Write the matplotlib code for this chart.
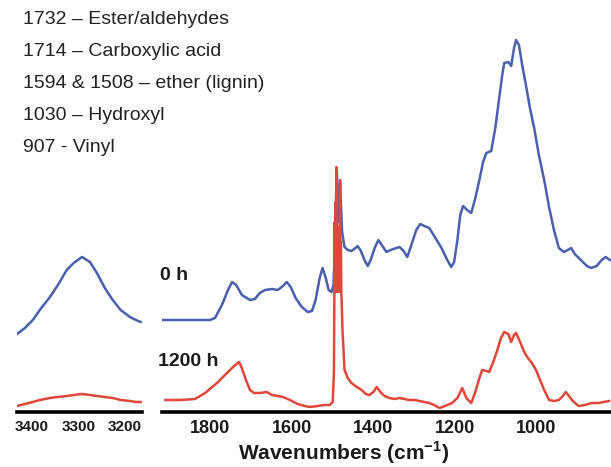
import matplotlib
matplotlib.use("Agg")
import matplotlib.pyplot as plt

plt.rcParams['font.family'] = ['Liberation Sans', 'DejaVu Sans']
plt.rcParams['mathtext.fontset'] = 'custom'
plt.rcParams['mathtext.rm'] = 'Liberation Sans'
plt.rcParams['mathtext.bf'] = 'Liberation Sans:bold'

# O-H stretch region (left panel)
oh_wn = [3432, 3415, 3398, 3383, 3361, 3344, 3325, 3310, 3292, 3275, 3260,
         3243, 3226, 3209, 3189, 3176, 3166]
oh_0h = [0.78, 0.84, 0.92, 1.02, 1.15, 1.27, 1.42, 1.49, 1.55, 1.50, 1.39,
         1.24, 1.12, 1.02, 0.95, 0.92, 0.90]
oh_1200h = [0.06, 0.08, 0.10, 0.12, 0.14, 0.15, 0.16, 0.17, 0.18, 0.17, 0.16,
            0.15, 0.14, 0.12, 0.11, 0.10, 0.10]

# fingerprint region (right panel), 0 h
fp_wn_0h = [1915, 1800, 1788, 1771, 1756, 1746, 1736, 1722, 1702, 1690, 1678,
            1665, 1648, 1634, 1621, 1612, 1602, 1590, 1575, 1560, 1550, 1541,
            1531, 1524, 1516, 1509, 1502, 1497, 1494, 1489, 1485, 1481, 1476,
            1470, 1462, 1453, 1443, 1438, 1431, 1421, 1413, 1406, 1396, 1387,
            1377, 1367, 1357, 1343, 1335, 1325, 1316, 1306, 1294, 1284, 1274,
            1262, 1247, 1232, 1218, 1208, 1201, 1193, 1186, 1179, 1169, 1159,
            1149, 1139, 1130, 1122, 1110, 1100, 1091, 1083, 1078, 1068, 1061,
            1054, 1049, 1042, 1034, 1024, 1015, 1005, 993, 980, 968, 956, 944,
            932, 922, 914, 905, 890, 875, 865, 851, 839, 829, 819]
fp_0h = [0.92, 0.92, 0.94, 1.07, 1.22, 1.30, 1.27, 1.17, 1.12, 1.13, 1.19,
         1.22, 1.23, 1.22, 1.26, 1.30, 1.25, 1.14, 1.05, 1.00, 1.01, 1.12,
         1.34, 1.44, 1.34, 1.22, 1.20, 1.27, 1.60, 2.44, 1.90, 2.30, 1.80,
         1.65, 1.62, 1.61, 1.64, 1.66, 1.62, 1.52, 1.46, 1.52, 1.64, 1.72,
         1.66, 1.60, 1.62, 1.64, 1.65, 1.61, 1.55, 1.67, 1.82, 1.88, 1.86,
         1.84, 1.74, 1.64, 1.52, 1.45, 1.50, 1.72, 1.97, 2.06, 2.02, 1.99,
         2.14, 2.32, 2.50, 2.59, 2.61, 2.84, 3.12, 3.37, 3.49, 3.50, 3.46,
         3.64, 3.72, 3.67, 3.47, 3.25, 3.04, 2.85, 2.57, 2.32, 2.05, 1.82, 1.64,
         1.60, 1.62, 1.64, 1.58, 1.52, 1.46, 1.44, 1.46, 1.52, 1.55, 1.52]

# fingerprint region (right panel), 1200 h
fp_wn_1200h = [1910, 1873, 1837, 1812, 1795, 1783, 1766, 1751, 1741, 1729,
               1722, 1712, 1702, 1692, 1678, 1661, 1648, 1634, 1621, 1604,
               1585, 1568, 1555, 1536, 1519, 1506, 1499, 1496, 1494, 1493,
               1492, 1491, 1490, 1489, 1488, 1487, 1486, 1485, 1484, 1483,
               1482, 1481, 1480, 1479, 1478, 1477, 1475, 1470, 1462, 1453,
               1440, 1428, 1418, 1409, 1399, 1391, 1382, 1372, 1360, 1347,
               1335, 1323, 1311, 1298, 1286, 1274, 1262, 1250, 1237, 1223,
               1206, 1193, 1181, 1171, 1159, 1149, 1139, 1132, 1122, 1115,
               1105, 1095, 1086, 1078, 1068, 1061, 1054, 1049, 1039, 1029,
               1020, 1010, 1000, 990, 980, 968, 956, 944, 934, 927, 919, 910,
               895, 880, 863, 846, 834, 821]
fp_1200h = [0.12, 0.12, 0.13, 0.19, 0.25, 0.29, 0.36, 0.42, 0.46, 0.50,
            0.44, 0.32, 0.22, 0.19, 0.19, 0.20, 0.17, 0.16, 0.15, 0.12,
            0.08, 0.06, 0.05, 0.06, 0.07, 0.07, 0.10, 0.40, 1.90, 1.20,
            2.10, 1.20, 2.45, 1.25, 1.80, 1.20, 1.85, 1.20, 1.80, 1.20,
            1.75, 2.32, 1.25, 1.70, 1.20, 1.10, 0.82, 0.42, 0.34, 0.29,
            0.25, 0.22, 0.18, 0.17, 0.20, 0.25, 0.20, 0.16, 0.14, 0.13,
            0.14, 0.13, 0.12, 0.12, 0.11, 0.10, 0.09, 0.07, 0.04, 0.06,
            0.09, 0.14, 0.24, 0.14, 0.09, 0.20, 0.34, 0.42, 0.41, 0.40,
            0.50, 0.62, 0.74, 0.80, 0.78, 0.70, 0.77, 0.79, 0.70, 0.60,
            0.54, 0.49, 0.42, 0.32, 0.22, 0.12, 0.11, 0.12, 0.16, 0.20, 0.16, 0.11,
            0.06, 0.07, 0.09, 0.09, 0.10, 0.11]

assignments = ["1732 \u2013 Ester/aldehydes", "1714 \u2013 Carboxylic acid",
               "1594 & 1508 \u2013 ether (lignin)", "1030 \u2013 Hydroxyl",
               "907 - Vinyl"]

blue = "#4a5fae"
red = "#e0473b"

fig = plt.figure(figsize=(6.11, 4.67), dpi=100)
W, H = 611.0, 467.0
ax1 = fig.add_axes([17 / W, (H - 412) / H, 125 / W, 412 / H])
ax2 = fig.add_axes([162 / W, (H - 412) / H, (W - 162) / W, 412 / H])

ax1.plot(oh_wn, oh_0h, color=blue, linewidth=1.8, solid_joinstyle="round")
ax1.plot(oh_wn, oh_1200h, color=red, linewidth=1.8, solid_joinstyle="round")
ax1.set_xlim(3432, 3163)
ax1.set_xticks([3400, 3300, 3200])

ax2.plot(fp_wn_0h, fp_0h, color=blue, linewidth=1.8, solid_joinstyle="round")
ax2.plot(fp_wn_1200h, fp_1200h, color=red, linewidth=1.8, solid_joinstyle="round")
ax2.set_xlim(1918, 816)
ax2.set_xticks([1800, 1600, 1400, 1200, 1000])

for ax, fs in [(ax1, 11), (ax2, 13)]:
    ax.set_ylim(0, 4.12)
    ax.set_yticks([])
    for s in ["top", "right", "left"]:
        ax.spines[s].set_visible(False)
    ax.spines["bottom"].set_linewidth(2.6)
    ax.patch.set_alpha(0)
    ax.tick_params(axis="x", length=0, pad=6, labelsize=fs)
    for lab in ax.get_xticklabels():
        lab.set_fontweight("bold")
        lab.set_color("#1a1a1a")

fig.text(344 / W, 1 - 453 / H, "Wavenumbers (cm$^{\\mathbf{-1}}$)",
         ha="center", va="center", fontsize=15, fontweight="bold", color="#1a1a1a")

fig.text(188 / W, 1 - 275 / H, "0 h", ha="right", va="center",
         fontsize=14, fontweight="bold", color="#1a1a1a")
fig.text(218 / W, 1 - 362 / H, "1200 h", ha="right", va="center",
         fontsize=14, fontweight="bold", color="#1a1a1a")

for i, t in enumerate(assignments):
    fig.text(23 / W, 1 - (20 + 32 * i) / H, t, ha="left", va="center",
             fontsize=14, color="#222222")

plt.savefig("out.png", dpi=100)
